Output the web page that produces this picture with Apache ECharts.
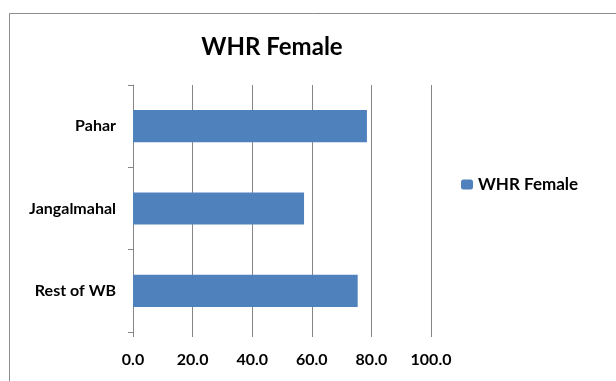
<!DOCTYPE html>
<html><head><meta charset="utf-8">
<script src="https://cdn.jsdelivr.net/npm/echarts@6/dist/echarts.min.js"></script>
<style>html,body{margin:0;padding:0;background:#fff}#c{width:616px;height:381px}</style>
</head><body><div id="c"></div>
<script>
const categories = ['Rest of WB', 'Jangalmahal', 'Pahar'];
const seriesName = 'WHR Female';
const values = [75.4, 57.4, 78.5];
const chart = echarts.init(document.getElementById('c'));
const font = 'Lato, "Open Sans", sans-serif';
chart.setOption({
  animation: false,
  title: {text: 'WHR Female', left: 267, top: 30, textAlign: 'center',
    textStyle: {fontFamily: font, fontSize: 24, fontWeight: 'bold', color: '#000'}},
  graphic: [{type: 'rect', shape: {x: 9.5, y: 13.5, width: 700, height: 500},
    style: {fill: 'none', stroke: '#8c8c8c', lineWidth: 1}}],
  legend: {data: [seriesName], left: 456, top: 171, itemWidth: 12, itemHeight: 10, itemGap: 6,
    textStyle: {fontFamily: font, fontSize: 17, fontWeight: 'bold', color: '#000'}},
  grid: {left: 133, right: 185, top: 85, bottom: 49},
  xAxis: {type: 'value', min: 0, max: 100, interval: 20,
    axisLine: {show: false},
    axisTick: {show: true, length: 5, lineStyle: {color: '#868686'}},
    splitLine: {show: true, lineStyle: {color: '#868686', width: 1}},
    axisLabel: {formatter: v => v.toFixed(1), fontFamily: font, fontSize: 16, fontWeight: 'bold', color: '#000', margin: 20}},
  yAxis: {type: 'category', data: categories,
    axisLine: {show: true, lineStyle: {color: '#868686'}},
    axisTick: {show: true, length: 5, inside: false, lineStyle: {color: '#868686'}},
    axisLabel: {fontFamily: font, fontSize: 16, fontWeight: 'bold', color: '#000', margin: 17}},
  series: [{name: seriesName, type: 'bar', data: values, barWidth: '39%',
    itemStyle: {color: '#4f81bd'}}]
});
</script></body></html>
